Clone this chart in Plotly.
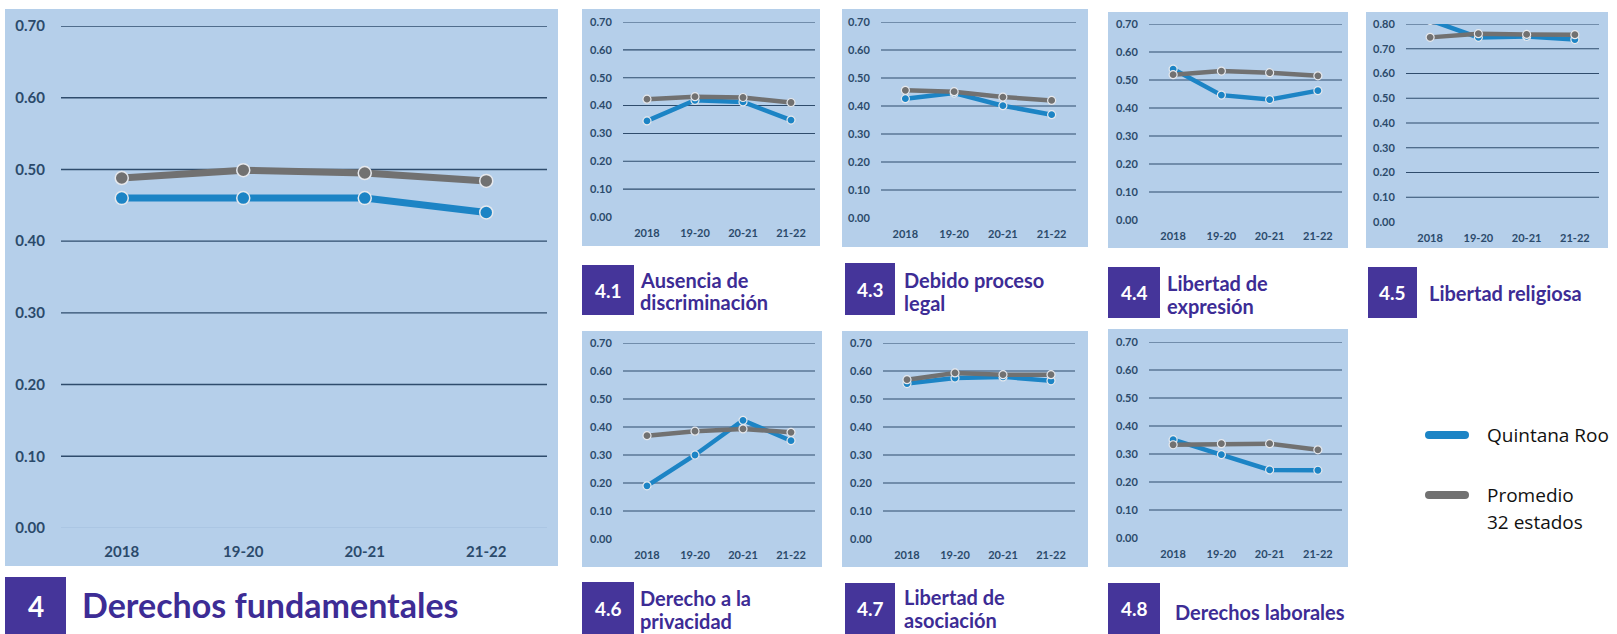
import plotly.graph_objects as go

W, H = 1617, 634

categories = ["2018", "19-20", "20-21", "21-22"]

qroo_4 = [0.460, 0.460, 0.460, 0.440]
prom_4 = [0.488, 0.499, 0.495, 0.484]
qroo_41 = [0.345, 0.419, 0.413, 0.348]
prom_41 = [0.423, 0.432, 0.429, 0.411]
qroo_43 = [0.426, 0.446, 0.401, 0.369]
prom_43 = [0.456, 0.451, 0.432, 0.420]
qroo_44 = [0.539, 0.446, 0.430, 0.462]
prom_44 = [0.519, 0.532, 0.526, 0.515]
qroo_45 = [0.815, 0.746, 0.750, 0.737]
prom_45 = [0.746, 0.761, 0.758, 0.757]
qroo_46 = [0.190, 0.300, 0.424, 0.351]
prom_46 = [0.369, 0.385, 0.393, 0.381]
qroo_47 = [0.555, 0.575, 0.579, 0.565]
prom_47 = [0.569, 0.593, 0.587, 0.587]
qroo_48 = [0.351, 0.298, 0.243, 0.242]
prom_48 = [0.333, 0.337, 0.337, 0.315]

ticks_07 = [0.0, 0.1, 0.2, 0.3, 0.4, 0.5, 0.6, 0.7]
ticks_08 = [0.0, 0.1, 0.2, 0.3, 0.4, 0.5, 0.6, 0.7, 0.8]

series_names = ["Quintana Roo", "Promedio 32 estados"]
num_labels = ["4", "4.1", "4.3", "4.4", "4.5", "4.6", "4.7", "4.8"]
title_lines = [
    ["Derechos fundamentales"],
    ["Ausencia de", "discriminación"],
    ["Debido proceso", "legal"],
    ["Libertad de", "expresión"],
    ["Libertad religiosa"],
    ["Derecho a la", "privacidad"],
    ["Libertad de", "asociación"],
    ["Derechos laborales"],
]
qroo_all = [qroo_4, qroo_41, qroo_43, qroo_44, qroo_45, qroo_46, qroo_47, qroo_48]
prom_all = [prom_4, prom_41, prom_43, prom_44, prom_45, prom_46, prom_47, prom_48]
yticks_all = [ticks_07, ticks_07, ticks_07, ticks_07, ticks_08, ticks_07, ticks_07, ticks_07]

# layout geometry (pixels)
panels = [
    (5, 9, 558, 566), (582, 9, 820, 246), (842, 9, 1088, 247), (1108, 12, 1348, 248),
    (1366, 12, 1608, 248), (582, 331, 822, 567), (842, 331, 1088, 567), (1108, 329, 1348, 567),
]
plots = [
    (61, 26, 547, 528), (623, 22, 815, 217), (881, 22, 1076, 218), (1149, 24, 1342, 220),
    (1406, 24, 1599, 222), (623, 343, 815, 539), (883, 343, 1075, 539), (1149, 342, 1342, 538),
]
boxes = [
    (5, 577, 66, 634), (582, 265, 634, 315), (845, 263, 895, 315), (1108, 267, 1160, 318),
    (1368, 267, 1417, 318), (582, 582, 634, 634), (845, 583, 895, 634), (1108, 583, 1160, 634),
]
title_x = [80, 638, 902, 1165, 1427, 638, 902, 1173]
title_y = [[604], [280, 302], [280, 303], [283, 306], [293], [598, 621], [597, 620], [612]]

BG = "#B5CFEA"
GRID = "#2F4C6C"
TICK = "#2B4A6B"
BLUE = "#1C84C5"
GRAY = "#717171"
PURPLE_BOX = "#45359A"
PURPLE_TXT = "#3D2C95"


def px(x):
    return x / W


def py(y):
    return 1 - y / H


fig = go.Figure()
shapes = []
annotations = []
layout = {}

for i in range(8):
    n = "" if i == 0 else str(i + 1)
    main = i == 0
    x0, y0, x1, y1 = plots[i]
    yt = yticks_all[i]
    lw = 7 if main else 4.5
    ms = 13 if main else 8
    tf = 15 if main else 11

    # panel background
    p = panels[i]
    shapes.append(dict(type="rect", xref="paper", yref="paper", x0=px(p[0]), x1=px(p[2]),
                       y0=py(p[3]), y1=py(p[1]), fillcolor=BG, line=dict(width=0), layer="below"))
    # gridlines
    for v in yt:
        if v == 0:
            if main:
                shapes.append(dict(type="line", xref=f"x{n} domain", yref=f"y{n}", x0=0, x1=1, y0=v, y1=v,
                                   line=dict(color="#A2BEDB", width=1.2), layer="below"))
            continue
        shapes.append(dict(type="line", xref=f"x{n} domain", yref=f"y{n}", x0=0, x1=1, y0=v, y1=v,
                           line=dict(color=GRID, width=1.4 if main else 1.1), layer="below"))

    for vals, col, name in [(qroo_all[i], BLUE, series_names[0]), (prom_all[i], GRAY, series_names[1])]:
        fig.add_trace(go.Scatter(
            x=categories, y=vals, mode="lines+markers", name=name, xaxis=f"x{n}", yaxis=f"y{n}",
            line=dict(color=col, width=lw),
            marker=dict(size=ms, color=col, line=dict(color="#E6E9EE", width=1.5 if main else 1.2)),
            showlegend=False, cliponaxis=True, hoverinfo="skip"))

    layout[f"xaxis{n}"] = dict(
        domain=[px(x0), px(x1)], anchor=f"y{n}", type="category", range=[-0.5, 3.5],
        showgrid=False, zeroline=False, showline=False, ticks="outside",
        ticklen=10 if main else 6, tickcolor="rgba(0,0,0,0)", automargin=False,
        tickfont=dict(family="Lato", size=tf, color=TICK, weight="bold"), fixedrange=True)
    layout[f"yaxis{n}"] = dict(
        domain=[py(y1), py(y0)], anchor=f"x{n}", range=[0, yt[-1]],
        tickvals=yt, tickformat=".2f", showgrid=False, zeroline=False, showline=False,
        ticks="outside", ticklen=12 if main else 8, tickcolor="rgba(0,0,0,0)", automargin=False,
        tickfont=dict(family="Lato", size=tf, color=TICK, weight="bold"), fixedrange=True)

    # title box
    b = boxes[i]
    shapes.append(dict(type="rect", xref="paper", yref="paper", x0=px(b[0]), x1=px(b[2]),
                       y0=py(b[3]), y1=py(b[1]), fillcolor=PURPLE_BOX, line=dict(width=0)))
    annotations.append(dict(xref="paper", yref="paper", x=px((b[0] + b[2]) / 2), y=py((b[1] + b[3]) / 2),
                            text=num_labels[i], showarrow=False, xanchor="center", yanchor="middle",
                            font=dict(family="Lato", size=28 if main else 19, color="white", weight="bold")))
    for line_text, ly in zip(title_lines[i], title_y[i]):
        annotations.append(dict(xref="paper", yref="paper", x=px(title_x[i]), y=py(ly), text=line_text,
                                showarrow=False, xanchor="left", yanchor="middle",
                                font=dict(family="Lato", size=34 if main else 20, color=PURPLE_TXT, weight="bold")))

# legend (drawn manually)
leg = [(435, BLUE, ["Quintana Roo"], [435]), (495, GRAY, ["Promedio", "32 estados"], [495, 522])]
for ly, col, texts, tys in leg:
    lx0, lx1, r = 1429, 1465, 4
    shapes.append(dict(type="line", xref="paper", yref="paper", x0=px(lx0), x1=px(lx1), y0=py(ly), y1=py(ly),
                       line=dict(color=col, width=8)))
    for cx in (lx0, lx1):
        shapes.append(dict(type="circle", xref="paper", yref="paper", x0=px(cx - r), x1=px(cx + r),
                           y0=py(ly + r), y1=py(ly - r), fillcolor=col, line=dict(width=0)))
    for t, ty in zip(texts, tys):
        annotations.append(dict(xref="paper", yref="paper", x=px(1485), y=py(ty), text=t, showarrow=False,
                                xanchor="left", yanchor="middle",
                                font=dict(family="Open Sans", size=19, color="#111111")))

fig.update_layout(width=W, height=H, margin=dict(l=0, r=0, t=0, b=0, pad=0, autoexpand=False),
                  paper_bgcolor="white", plot_bgcolor="rgba(0,0,0,0)", showlegend=False,
                  shapes=shapes, annotations=annotations, **layout)

fig.write_html("out.html", config={"displayModeBar": False},
               post_script="document.body.style.margin='0';document.body.style.overflow='hidden';")
